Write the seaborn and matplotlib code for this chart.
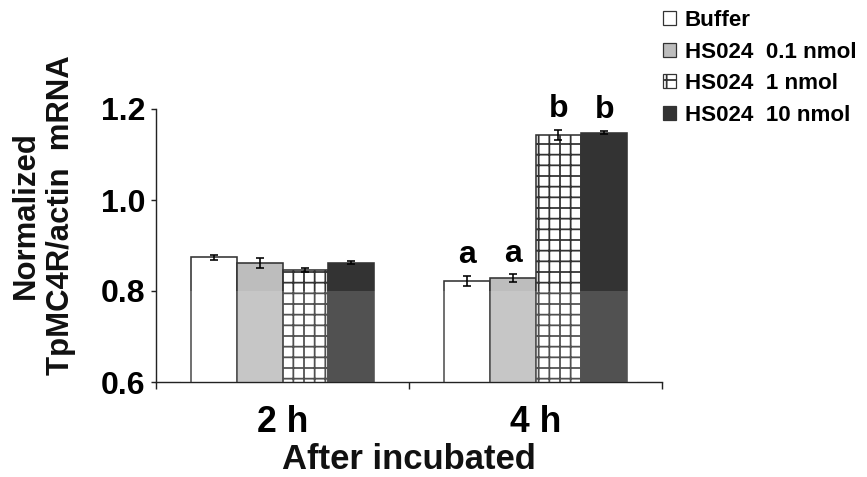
import numpy as np
import pandas as pd
import matplotlib
matplotlib.use("Agg")
import matplotlib.pyplot as plt
import seaborn as sns
from matplotlib.patches import Patch

# ---- data ----
times = ["2 h", "4 h"]
treatments = ["Buffer", "HS024  0.1 nmol", "HS024  1 nmol", "HS024  10 nmol"]
buffer_mean = [0.874, 0.823]
hs01_mean = [0.862, 0.828]
hs1_mean = [0.846, 1.143]
hs10_mean = [0.862, 1.148]
buffer_err = [0.005, 0.011]
hs01_err = [0.011, 0.009]
hs1_err = [0.004, 0.011]
hs10_err = [0.003, 0.004]
buffer_sig = ["", "a"]
hs01_sig = ["", "a"]
hs1_sig = ["", "b"]
hs10_sig = ["", "b"]
y_ticks = [0.6, 0.8, 1.0, 1.2]

means = [buffer_mean, hs01_mean, hs1_mean, hs10_mean]
errs = [buffer_err, hs01_err, hs1_err, hs10_err]
sigs = [buffer_sig, hs01_sig, hs1_sig, hs10_sig]

rows = []
for t_i, tr in enumerate(treatments):
    for k, tm in enumerate(times):
        rows.append({"time": tm, "treatment": tr, "value": means[t_i][k]})
df = pd.DataFrame(rows)

sns.set_theme(style="white")
plt.rcParams["font.family"] = ["Liberation Sans", "DejaVu Sans"]
plt.rcParams["font.weight"] = "bold"
plt.rcParams["hatch.linewidth"] = 1.0

DPI = 128
W, H = 867, 477
fig = plt.figure(figsize=(W / DPI, H / DPI), dpi=DPI)
ax = fig.add_axes([156 / W, 1 - 382 / H, (662 - 156) / W, (382 - 109) / H])

colors = {treatments[0]: "#ffffff", treatments[1]: "#bdbdbd",
          treatments[2]: "#ffffff", treatments[3]: "#333333"}
hatches = ["", "", "++", ""]
edge = "#333333"

sns.barplot(data=df, x="time", y="value", hue="treatment", order=times,
            hue_order=treatments, palette=colors, saturation=1, width=0.725,
            errorbar=None, legend=False, edgecolor=edge, linewidth=0.9, ax=ax)

bar_containers = list(ax.containers)
for i, cont in enumerate(bar_containers):
    xs = []
    for bar in cont:
        bar.set_hatch(hatches[i])
        bar.set_edgecolor(edge)
        xs.append(bar.get_x() + bar.get_width() / 2)
    ax.errorbar(xs, means[i], yerr=errs[i], fmt="none", ecolor="black",
                elinewidth=0.9, capsize=2.5, capthick=0.9, zorder=5)
    for x, m, e, s in zip(xs, means[i], errs[i], sigs[i]):
        if s:
            ax.annotate(s, xy=(x, m + e), xytext=(0, 7), textcoords="offset points",
                        ha="center", va="baseline", fontsize=18, fontweight="bold",
                        color="black")

# lightening band seen below 0.8 in the reference
ax.axhspan(0.6, 0.8, xmin=0.05, xmax=0.95, facecolor="white", alpha=0.15,
           lw=0, zorder=3)

ax.set_xlim(-0.5, 1.5)
ax.set_ylim(0.6, 1.2)
ax.set_yticks(y_ticks)
ax.set_yticklabels([f"{v:.1f}" for v in y_ticks])
ax.set_xticks([-0.5, 0.5, 1.5], minor=True)

for side in ["top", "right"]:
    ax.spines[side].set_visible(False)
for side in ["left", "bottom"]:
    ax.spines[side].set_color("#222222")
    ax.spines[side].set_linewidth(0.8)

ax.tick_params(axis="y", direction="out", length=3, width=0.8, color="#222222",
               labelsize=18, pad=3, labelcolor="black", left=True)
ax.tick_params(axis="x", which="major", length=0, labelsize=20, pad=13,
               labelcolor="black")
ax.tick_params(axis="x", which="minor", direction="out", length=4, width=0.8,
               color="#222222", bottom=True)
for lab in ax.get_xticklabels() + ax.get_yticklabels():
    lab.set_fontweight("bold")

ax.set_xlabel("After incubated", fontsize=19.5, fontweight="bold", color="#111111",
              va="top")
ax.xaxis.set_label_coords(0.5, -0.222)
ax.set_ylabel("Normalized\nTpMC4R/actin  mRNA", fontsize=17.5, fontweight="bold",
              color="#111111", va="center", ha="center", linespacing=1.2)
ax.yaxis.set_label_coords(-0.222, 0.61)

handles = [Patch(facecolor=colors[t], edgecolor=edge, hatch=h, linewidth=0.7)
           for t, h in zip(treatments, hatches)]
leg = ax.legend(handles, treatments, loc="upper left",
                bbox_to_anchor=(663 / W, 1 - 10 / H), bbox_transform=fig.transFigure,
                frameon=False, fontsize=12.6, handlelength=0.58, handleheight=0.58,
                handletextpad=0.4, labelspacing=0.47, borderpad=0, borderaxespad=0)
for txt in leg.get_texts():
    txt.set_fontweight("bold")
    txt.set_color("black")

fig.savefig("out.png", dpi=DPI)
